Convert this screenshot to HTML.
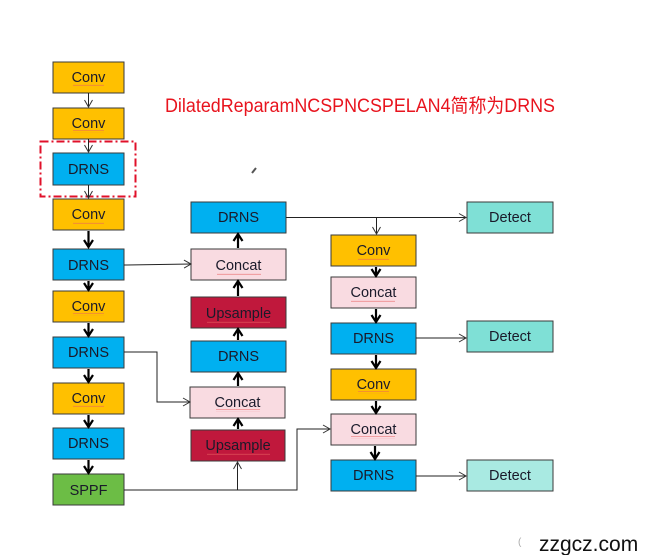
<!DOCTYPE html>
<html><head><meta charset="utf-8"><style>
html,body{margin:0;padding:0;background:#fff;}
svg{display:block;}
text{font-family:"Liberation Sans","Noto Sans CJK SC",sans-serif;}
</style></head><body>
<svg width="660" height="555" viewBox="0 0 660 555" xmlns="http://www.w3.org/2000/svg">
<defs>
<marker id="open" markerWidth="10" markerHeight="10" refX="8" refY="5" orient="auto" markerUnits="userSpaceOnUse">
<path d="M1,1 L8,5 L1,9" fill="none" stroke="#333" stroke-width="1"/></marker>
<marker id="bold" markerWidth="12" markerHeight="12" refX="9" refY="6" orient="auto" markerUnits="userSpaceOnUse">
<path d="M2,1.5 L9,6 L2,10.5" fill="none" stroke="#000" stroke-width="2.2"/></marker>
<pattern id="wavy" width="4" height="3" patternUnits="userSpaceOnUse"><path d="M0,2 L1,0.8 L2,2 L3,0.8 L4,2" fill="none" stroke="#e86060" stroke-width="0.5"/></pattern>
</defs>
<g stroke="#3a3a3a" stroke-width="1">
<rect x="53" y="62" width="71" height="31" fill="#ffc000"/>
<rect x="53" y="108" width="71" height="31" fill="#ffc000"/>
<rect x="53" y="153" width="71" height="32" fill="#00b0f0"/>
<rect x="53" y="199" width="71" height="31" fill="#ffc000"/>
<rect x="53" y="249" width="71" height="31" fill="#00b0f0"/>
<rect x="53" y="291" width="71" height="31" fill="#ffc000"/>
<rect x="53" y="337" width="71" height="31" fill="#00b0f0"/>
<rect x="53" y="383" width="71" height="31" fill="#ffc000"/>
<rect x="53" y="428" width="71" height="31" fill="#00b0f0"/>
<rect x="53" y="474" width="71" height="31" fill="#6cbd45"/>
<rect x="191" y="202" width="95" height="31" fill="#00b0f0"/>
<rect x="191" y="249" width="95" height="31" fill="#f9dbe1"/>
<rect x="191" y="297" width="95" height="31" fill="#c0183c"/>
<rect x="191" y="341" width="95" height="31" fill="#00b0f0"/>
<rect x="190" y="387" width="95" height="31" fill="#f9dbe1"/>
<rect x="191" y="430" width="94" height="31" fill="#c0183c"/>
<rect x="331" y="235" width="85" height="31" fill="#ffc000"/>
<rect x="331" y="277" width="85" height="31" fill="#f9dbe1"/>
<rect x="331" y="323" width="85" height="31" fill="#00b0f0"/>
<rect x="331" y="369" width="85" height="31" fill="#ffc000"/>
<rect x="331" y="414" width="85" height="31" fill="#f9dbe1"/>
<rect x="331" y="460" width="85" height="31" fill="#00b0f0"/>
<rect x="467" y="202" width="86" height="31" fill="#7fe0d6"/>
<rect x="467" y="321" width="86" height="31" fill="#7fe0d6"/>
<rect x="467" y="460" width="86" height="31" fill="#a9eae2"/>
</g>
<rect x="40.5" y="141.5" width="95" height="55" fill="none" stroke="#e0102a" stroke-width="2" stroke-dasharray="8,3,2,3"/>
<g stroke="#222" stroke-width="1" fill="none" marker-end="url(#open)">
<line x1="88.5" y1="93" x2="88.5" y2="107"/>
<line x1="88.5" y1="139" x2="88.5" y2="152"/>
<line x1="88.5" y1="185" x2="88.5" y2="198"/>
<polyline points="124,265 191,264"/>
<polyline points="124,352 157,352 157,402 190,402"/>
<polyline points="124,490 297,490 297,429 330,429"/>
<line x1="237.5" y1="490" x2="237.5" y2="462"/>
<line x1="286" y1="217.5" x2="466" y2="217.5"/>
<line x1="376.5" y1="217.5" x2="376.5" y2="234"/>
<line x1="416" y1="338" x2="466" y2="338"/>
<line x1="416" y1="476" x2="466" y2="476"/>
</g>
<g stroke="#000" stroke-width="2.2" fill="none" marker-end="url(#bold)">
<line x1="88.5" y1="231" x2="88.5" y2="247"/>
<line x1="88.5" y1="281" x2="88.5" y2="290"/>
<line x1="88.5" y1="323" x2="88.5" y2="336"/>
<line x1="88.5" y1="369" x2="88.5" y2="382"/>
<line x1="88.5" y1="415" x2="88.5" y2="427"/>
<line x1="88.5" y1="460" x2="88.5" y2="473"/>
<line x1="238" y1="248" x2="238" y2="234"/>
<line x1="238" y1="296" x2="238" y2="281"/>
<line x1="238" y1="340" x2="238" y2="329"/>
<line x1="238" y1="386" x2="238" y2="373"/>
<line x1="238" y1="429" x2="238" y2="419"/>
<line x1="376" y1="267" x2="376" y2="276"/>
<line x1="376" y1="309" x2="376" y2="322"/>
<line x1="376" y1="355" x2="376" y2="368"/>
<line x1="376" y1="401" x2="376" y2="413"/>
<line x1="375" y1="446" x2="375" y2="459"/>
</g>
<g font-size="14.5" text-anchor="middle" fill="#1a1a2a">
<text x="88.5" y="82">Conv</text>
<text x="88.5" y="128">Conv</text>
<text x="88.5" y="174">DRNS</text>
<text x="88.5" y="219">Conv</text>
<text x="88.5" y="270">DRNS</text>
<text x="88.5" y="311">Conv</text>
<text x="88.5" y="357">DRNS</text>
<text x="88.5" y="403">Conv</text>
<text x="88.5" y="448">DRNS</text>
<text x="88.5" y="495">SPPF</text>
<text x="238.5" y="222">DRNS</text>
<text x="238.5" y="270">Concat</text>
<text x="238.5" y="318">Upsample</text>
<text x="238.5" y="361">DRNS</text>
<text x="237.5" y="407">Concat</text>
<text x="238" y="450">Upsample</text>
<text x="373.5" y="255">Conv</text>
<text x="373.5" y="297">Concat</text>
<text x="373.5" y="343">DRNS</text>
<text x="373.5" y="389">Conv</text>
<text x="373.5" y="434">Concat</text>
<text x="373.5" y="480">DRNS</text>
<text x="510" y="222">Detect</text>
<text x="510" y="341">Detect</text>
<text x="510" y="480">Detect</text>
</g>
<g fill="url(#wavy)">
<rect x="73" y="84" width="31" height="3"/><rect x="73" y="130" width="31" height="3"/>
<rect x="73" y="221" width="31" height="3"/><rect x="73" y="313" width="31" height="3"/>
<rect x="73" y="405" width="31" height="3"/>
<rect x="217" y="272" width="44" height="3"/><rect x="216" y="409" width="44" height="3"/>
<rect x="207" y="320" width="63" height="3"/><rect x="207" y="452" width="63" height="3"/>
<rect x="358" y="257" width="31" height="3"/><rect x="358" y="391" width="31" height="3"/>
<rect x="351" y="299" width="44" height="3"/><rect x="351" y="436" width="44" height="3"/>
</g>
<text x="165" y="112" font-size="19" fill="#e8141e" textLength="390" lengthAdjust="spacingAndGlyphs">DilatedReparamNCSPNCSPELAN4简称为DRNS</text>
<path d="M252,173 L256,168" stroke="#555" stroke-width="2"/>
<text x="539" y="551" font-size="21" fill="#111">zzgcz.com</text>
<text x="518" y="545" font-size="10" fill="#aaa">(</text>
</svg>
</body></html>
